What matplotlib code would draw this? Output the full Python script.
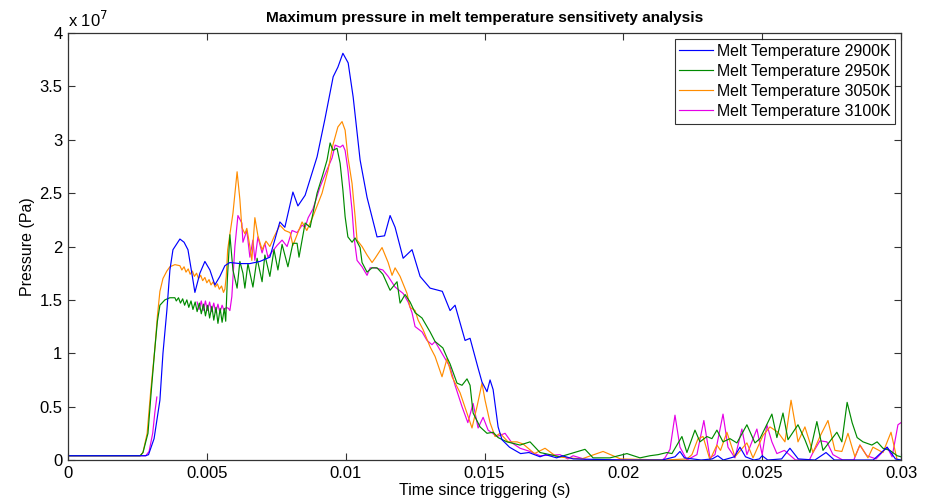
import numpy as np
import matplotlib
matplotlib.use("Agg")
import matplotlib.pyplot as plt

nan = np.nan

# ---------------- data (time in s, pressure in 1e7 Pa) ----------------
t_2900 = [0.0, 0.0028, 0.0029, 0.00310, 0.00331, 0.00342, 0.00356, 0.00367, 0.00378, 0.00403,
          0.00418, 0.00432, 0.00446, 0.00457, 0.00475, 0.00493, 0.00511, 0.00529, 0.00547, 0.00565,
          0.00583, 0.00619, 0.00655, 0.00691, 0.00727, 0.00763, 0.00781, 0.0081, 0.00828, 0.00854,
          0.00897, 0.00925, 0.00955, 0.00972, 0.0099, 0.01009, 0.01027, 0.01052, 0.01077, 0.01113,
          0.0114, 0.0116, 0.01178, 0.01207, 0.01239, 0.01268, 0.01304, 0.01348, 0.01376, 0.01394,
          0.0143, 0.01448, 0.01477, 0.01491, 0.01509, 0.0152, 0.01531, 0.01549, 0.01563, 0.0159,
          0.0163, 0.0166, 0.0170, 0.0172, 0.0176, 0.0178, 0.0182, 0.0200, 0.0214, 0.02186,
          0.02204, 0.0222, 0.0228, 0.0232, 0.0234, 0.0236, 0.0240, 0.0242, 0.0244, 0.0247,
          0.0249, 0.0250, 0.0252, 0.0257, 0.0260, 0.0263, 0.0269, 0.0273, 0.0276, 0.0290,
          0.0295, 0.0298, 0.0300]
p_2900 = [0.04, 0.04, 0.05, 0.2, 0.56, 1.0, 1.40, 1.78, 1.97, 2.07,
          2.04, 1.97, 1.75, 1.57, 1.75, 1.86, 1.78, 1.64, 1.72, 1.82,
          1.85, 1.84, 1.84, 1.86, 1.90, 2.23, 2.18, 2.51, 2.38, 2.48,
          2.84, 3.19, 3.59, 3.68, 3.81, 3.72, 3.40, 2.81, 2.46, 2.09,
          2.10, 2.29, 2.18, 1.89, 1.97, 1.72, 1.61, 1.58, 1.40, 1.45,
          1.12, 1.14, 0.86, 0.73, 0.64, 0.75, 0.66, 0.31, 0.19, 0.12,
          0.06, 0.07, 0.03, 0.05, 0.02, 0.04, 0.01, 0.0, 0.0, 0.03,
          0.08, 0.02, 0.0, 0.01, 0.04, 0.0, 0.03, 0.12, 0.03, 0.0,
          0.01, 0.04, 0.0, 0.01, 0.11, 0.01, 0.0, 0.07, 0.0, 0.0,
          0.12, 0.01, 0.0]

t_2950 = [0.0, 0.0026, 0.0027, 0.00288, 0.00300, 0.00313, 0.00322, 0.00331, 0.00349, 0.00367,
          0.00385, 0.0039, 0.00398, 0.00405, 0.00413, 0.0042, 0.00428, 0.00435, 0.00443, 0.0045,
          0.00458, 0.00465, 0.00473, 0.0048, 0.00488, 0.00495, 0.00503, 0.0051, 0.00518, 0.00525,
          0.00533, 0.0054, 0.00548, 0.00555, 0.00563, 0.00568, 0.00574, 0.00583, 0.00594, 0.00609,
          0.00619, 0.0063, 0.00637, 0.00648, 0.00666, 0.00681, 0.00699, 0.00709, 0.00727, 0.00742,
          0.00756, 0.00771, 0.00792, 0.0081, 0.00825, 0.00832, 0.00854, 0.00872, 0.00897, 0.00915,
          0.00933, 0.00944, 0.00954, 0.00969, 0.0098, 0.0099, 0.00998, 0.01008, 0.01023, 0.01034,
          0.01052, 0.01059, 0.01077, 0.01095, 0.01113, 0.01134, 0.0116, 0.01185, 0.01196, 0.01214,
          0.01232, 0.0125, 0.01275, 0.01293, 0.01304, 0.01322, 0.0135, 0.01365, 0.01376, 0.01401,
          0.01419, 0.01437, 0.01448, 0.01459, 0.01484, 0.01509, 0.01531, 0.01549, 0.01581, 0.01628,
          0.01664, 0.0170, 0.01772, 0.01862, 0.01891, 0.01952, 0.02013, 0.0206, 0.02096, 0.02125,
          0.02157, 0.02175, 0.02211, 0.02229, 0.02258, 0.02276, 0.02301, 0.02319, 0.02337, 0.02359,
          0.02384, 0.02409, 0.02445, 0.02474, 0.02492, 0.02535, 0.02553, 0.02575, 0.02593, 0.02629,
          0.02654, 0.02672, 0.02697, 0.02719, 0.02769, 0.02787, 0.02806, 0.02824, 0.02842, 0.02863,
          0.02895, 0.02914, 0.02935, 0.0296, 0.02986, 0.0300]
p_2950 = [0.04, 0.04, 0.07, 0.25, 0.65, 1.05, 1.30, 1.45, 1.50, 1.52,
          1.52, 1.49, 1.52, 1.47, 1.51, 1.45, 1.50, 1.43, 1.49, 1.41,
          1.48, 1.39, 1.47, 1.37, 1.46, 1.35, 1.45, 1.33, 1.44, 1.31,
          1.43, 1.28, 1.42, 1.29, 1.42, 1.30, 1.70, 2.11, 1.78, 1.61,
          1.86, 1.75, 1.61, 1.84, 1.62, 1.89, 1.67, 1.92, 1.72, 1.97,
          1.78, 2.02, 1.81, 2.03, 2.03, 1.90, 2.22, 2.18, 2.50, 2.65,
          2.81, 2.97, 2.90, 2.92, 2.78, 2.53, 2.28, 2.09, 2.04, 2.08,
          1.99, 1.85, 1.76, 1.80, 1.80, 1.74, 1.59, 1.67, 1.47, 1.55,
          1.48, 1.38, 1.33, 1.25, 1.20, 1.11, 1.05, 0.96, 0.90, 0.72,
          0.70, 0.76, 0.70, 0.44, 0.31, 0.25, 0.26, 0.21, 0.17, 0.14,
          0.17, 0.07, 0.03, 0.10, 0.02, 0.02, 0.06, 0.02, 0.04, 0.05,
          0.07, 0.06, 0.22, 0.07, 0.28, 0.17, 0.22, 0.20, 0.28, 0.17,
          0.20, 0.16, 0.33, 0.16, 0.20, 0.43, 0.21, 0.44, 0.19, 0.33,
          0.19, 0.07, 0.36, 0.09, 0.26, 0.17, 0.54, 0.35, 0.21, 0.17,
          0.14, 0.17, 0.11, 0.09, 0.04, 0.03]

t_3050 = [0.0, 0.0026, 0.0027, 0.00285, 0.00298, 0.00313, 0.00322, 0.00331, 0.00342, 0.00356,
          0.00367, 0.00385, 0.00403, 0.0041, 0.00418, 0.00425, 0.00433, 0.0044, 0.00448, 0.00455,
          0.00463, 0.0047, 0.00478, 0.00485, 0.00493, 0.0050, 0.00508, 0.00515, 0.00523, 0.0053,
          0.00538, 0.00545, 0.00553, 0.0056, 0.00565, 0.0057, 0.00575, 0.00594, 0.00609, 0.00619,
          0.00626, 0.00637, 0.00644, 0.00655, 0.00662, 0.00673, 0.00684, 0.00699, 0.00713, 0.00727,
          0.00742, 0.00763, 0.00781, 0.0080, 0.0081, 0.00843, 0.0086, 0.00882, 0.00915, 0.00937,
          0.00954, 0.00972, 0.00987, 0.00998, 0.01008, 0.01023, 0.01034, 0.01041, 0.01059, 0.01077,
          0.01095, 0.01106, 0.01131, 0.01153, 0.01167, 0.01178, 0.01196, 0.01221, 0.01232, 0.0125,
          0.01261, 0.01279, 0.01304, 0.01322, 0.01347, 0.01365, 0.01383, 0.01412, 0.01437, 0.01455,
          0.01473, 0.01491, 0.01502, 0.0152, 0.01538, 0.01556, 0.01585, 0.01617, 0.01639, 0.0168,
          0.01718, 0.0176, 0.0185, 0.01927, 0.0199, 0.0215, 0.02229, 0.02247, 0.02269, 0.02287,
          0.02312, 0.02337, 0.0235, 0.02373, 0.02402, 0.02445, 0.02467, 0.02503, 0.02528, 0.02557,
          0.02582, 0.02604, 0.02618, 0.02629, 0.02654, 0.02683, 0.02708, 0.02737, 0.02762, 0.02787,
          0.02809, 0.02834, 0.02852, 0.02881, 0.02899, 0.02935, 0.02964, 0.02986, 0.0300]
p_3050 = [0.04, 0.04, 0.07, 0.25, 0.65, 1.05, 1.35, 1.58, 1.70, 1.77,
          1.81, 1.83, 1.82, 1.78, 1.81, 1.76, 1.79, 1.74, 1.77, 1.72,
          1.75, 1.70, 1.73, 1.68, 1.71, 1.66, 1.69, 1.64, 1.67, 1.62,
          1.65, 1.60, 1.63, 1.57, 1.60, 1.72, 1.97, 2.31, 2.70, 2.44,
          2.18, 2.12, 2.17, 2.00, 1.87, 2.27, 2.10, 1.97, 2.05, 2.00,
          2.09, 2.20, 2.15, 2.13, 2.01, 2.23, 2.15, 2.28, 2.50, 2.72,
          2.95, 3.12, 3.17, 3.09, 2.84, 2.59, 2.28, 2.06, 2.00, 1.92,
          1.85, 1.89, 1.99, 1.85, 1.73, 1.80, 1.72, 1.56, 1.43, 1.40,
          1.31, 1.22, 1.06, 0.97, 0.78, 0.95, 0.78, 0.63, 0.44, 0.30,
          0.50, 0.72, 0.56, 0.35, 0.22, 0.25, 0.17, 0.17, 0.15, 0.06,
          0.11, 0.03, 0.01, 0.08, 0.01, 0.0, 0.01, 0.05, 0.20, 0.22,
          0.0, 0.14, 0.09, 0.26, 0.03, 0.16, 0.02, 0.23, 0.31, 0.26,
          0.17, 0.56, 0.35, 0.17, 0.31, 0.07, 0.22, 0.37, 0.09, 0.08,
          0.25, 0.03, 0.14, 0.02, 0.12, 0.07, 0.26, 0.0, 0.0]

t_3100 = [0.0, 0.0028, 0.00292, 0.00305, 0.00313, 0.0032, 0.00321,
          0.00465, 0.00472, 0.0048, 0.00487, 0.00495, 0.00502, 0.0051, 0.00517, 0.00525, 0.00532,
          0.0054, 0.00547, 0.00555, 0.00562, 0.0057, 0.00578, 0.00583, 0.0059, 0.00601, 0.00612,
          0.00626, 0.0063, 0.00644, 0.00655, 0.00666, 0.00673, 0.00684, 0.00699, 0.00709, 0.0072,
          0.00735, 0.00753, 0.00771, 0.00789, 0.00807, 0.00825, 0.00843, 0.00854, 0.00865, 0.00882,
          0.00908, 0.00933, 0.00951, 0.00962, 0.0098, 0.0099, 0.00998, 0.01008, 0.01023, 0.0103,
          0.01041, 0.01059, 0.01077, 0.01088, 0.01106, 0.01134, 0.01153, 0.01178, 0.01207, 0.01225,
          0.01239, 0.0125, 0.01275, 0.01293, 0.01311, 0.01322, 0.0134, 0.01376, 0.01394, 0.01419,
          0.0144, 0.01459, 0.01477, 0.01495, 0.01513, 0.01545, 0.01574, 0.01599, 0.01628, 0.01664,
          0.0170, 0.01772, 0.0180, 0.01819, 0.0187, 0.0214, 0.0215, 0.02168, 0.02186, 0.02204,
          0.02229, 0.02265, 0.0229, 0.02312, 0.0233, 0.02359, 0.02377, 0.02402, 0.02427, 0.02445,
          0.02481, 0.0250, 0.02517, 0.02535, 0.02553, 0.0258, 0.0262, 0.0267, 0.02683, 0.02708,
          0.02733, 0.02755, 0.0279, 0.0283, 0.02852, 0.02877, 0.0291, 0.0295, 0.02968, 0.02989,
          0.0300]
p_3100 = [0.04, 0.04, 0.08, 0.25, 0.45, 0.59, nan,
          1.48, 1.41, 1.49, 1.40, 1.49, 1.40, 1.48, 1.39, 1.47, 1.38,
          1.46, 1.38, 1.45, 1.40, 1.43, 1.42, 1.40, 1.53, 2.00, 2.29,
          2.22, 2.04, 2.15, 1.90, 2.06, 1.87, 2.09, 1.94, 2.03, 1.90,
          1.95, 2.01, 2.06, 2.00, 2.15, 2.13, 2.20, 2.18, 2.27, 2.35,
          2.56, 2.72, 2.83, 2.95, 2.93, 2.95, 2.90, 2.72, 2.34, 2.09,
          1.87, 1.81, 1.73, 1.80, 1.80, 1.78, 1.72, 1.62, 1.56, 1.48,
          1.38, 1.25, 1.20, 1.12, 1.08, 1.11, 1.03, 0.87, 0.70, 0.50,
          0.35, 0.53, 0.30, 0.40, 0.28, 0.22, 0.25, 0.16, 0.11, 0.08,
          0.04, 0.05, 0.01, 0.04, 0.0, 0.0, 0.02, 0.10, 0.42, 0.12,
          0.0, 0.05, 0.37, 0.02, 0.05, 0.43, 0.12, 0.02, 0.29, 0.05,
          0.29, 0.05, 0.33, 0.17, 0.06, 0.09, 0.0, 0.0, 0.07, 0.18,
          0.17, 0.05, 0.0, 0.0, 0.14, 0.04, 0.01, 0.12, 0.03, 0.33,
          0.35]

labels = ["Melt Temperature 2900K", "Melt Temperature 2950K",
          "Melt Temperature 3050K", "Melt Temperature 3100K"]
x_ticks = [0, 0.005, 0.01, 0.015, 0.02, 0.025, 0.03]
x_tick_labels = ["0", "0.005", "0.01", "0.015", "0.02", "0.025", "0.03"]
y_ticks = [0, 0.5, 1, 1.5, 2, 2.5, 3, 3.5, 4]
y_tick_labels = ["0", "0.5", "1", "1.5", "2", "2.5", "3", "3.5", "4"]

colors = ["#0000ff", "#008a00", "#ff8c00", "#e600e6"]

# ---------------- figure ----------------
plt.rcParams['font.family'] = ['Liberation Sans', 'DejaVu Sans']
fig = plt.figure(figsize=(9.26, 4.99), dpi=100)
ax = fig.add_axes([68/926, 39/499, 833/926, 427/499])

series = [(t_2900, p_2900), (t_2950, p_2950), (t_3050, p_3050), (t_3100, p_3100)]
zorders = [2.4, 2.2, 2.1, 2.0]
for (t, p), c, lab, z in zip(series, colors, labels, zorders):
    ax.plot(t, p, color=c, lw=0.85, label=lab, zorder=z)

ax.set_xlim(0, 0.03)
ax.set_ylim(0, 4)
ax.set_xticks(x_ticks)
ax.set_xticklabels(x_tick_labels)
ax.set_yticks(y_ticks)
ax.set_yticklabels(y_tick_labels)
ax.tick_params(direction='in', length=5, width=0.8, top=True, right=True,
               labelsize=12, colors='#333333', labelcolor='black', pad=4)
for s in ax.spines.values():
    s.set_color('#333333')
    s.set_linewidth(0.9)

ax.set_title("Maximum pressure in melt temperature sensitivety analysis",
             fontsize=11.1, fontweight='bold', pad=8)
ax.set_xlabel("Time since triggering (s)", fontsize=11.5, labelpad=2)
ax.set_ylabel("Pressure (Pa)", fontsize=11.5, labelpad=3)
ax.text(0.0, 1.008, r"x 10$^{7}$", transform=ax.transAxes, fontsize=12,
        ha='left', va='bottom')

leg = ax.legend(loc='upper right', fontsize=11.4, frameon=True, fancybox=False,
                borderpad=0.3, labelspacing=0.32, handlelength=2.1, handletextpad=0.25,
                borderaxespad=0.0, bbox_to_anchor=(0.9928, 0.986))
leg.get_frame().set_edgecolor('black')
leg.get_frame().set_linewidth(0.8)

fig.savefig("out.png", dpi=100)
